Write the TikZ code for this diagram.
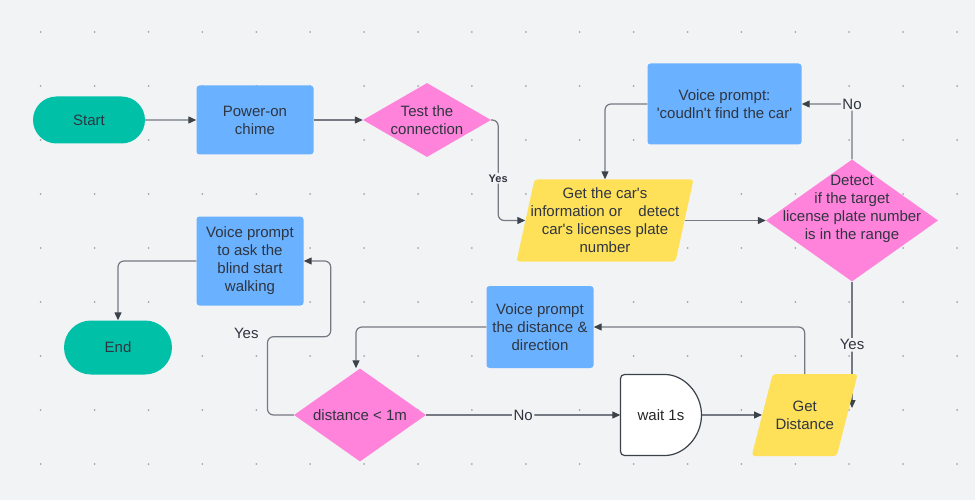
\documentclass[tikz,border=0pt]{standalone}
\usepackage{fontspec}
\setmainfont{Liberation Sans}
\usetikzlibrary{arrows.meta,shapes.geometric,shapes.misc,calc}

\definecolor{bgcol}{HTML}{F2F3F5}
\definecolor{dotcol}{HTML}{A3A6AC}
\definecolor{termcol}{HTML}{00C1A8}
\definecolor{boxblue}{HTML}{6AB1FF}
\definecolor{diapink}{HTML}{FF82DB}
\definecolor{datayellow}{HTML}{FFE159}
\definecolor{linecol}{HTML}{757A82}
\definecolor{tipcol}{HTML}{3C424A}
\definecolor{txtcol}{HTML}{2F3540}
\newcommand{\q}{\textquotesingle}

\begin{document}
\begin{tikzpicture}[
  x=1pt, y=-1pt,
  font=\fontsize{15}{18}\selectfont, text=txtcol,
  terminal/.style={rounded rectangle, fill=termcol, inner sep=0pt},
  process/.style={rectangle, rounded corners=3pt, fill=boxblue, align=center, inner sep=0pt},
  decision/.style={diamond, fill=diapink, inner sep=0pt},
  data/.style={rectangle, inner sep=0pt, align=center,
    path picture={\fill[datayellow, rounded corners=3pt]
      (path picture bounding box.south west) -- ([xshift=#1]path picture bounding box.north west)
      -- (path picture bounding box.north east) -- ([xshift=-#1]path picture bounding box.south east) -- cycle;}},
  line/.style={draw=linecol, line width=1.2pt, rounded corners=6pt},
  arrow/.style={line, -{Triangle[length=8pt, width=7pt, color=tipcol]}},
  tag/.style={fill=bgcol, inner sep=1.5pt}
]

% background and dot grid
\fill[bgcol] (0,0) rectangle (975,500);
\foreach \i in {0,...,17} {
  \foreach \j in {0,...,8} {
    \fill[dotcol] (40.7+53.9*\i, 32+54*\j) circle (1pt);
  }
}

% top row
\node[terminal, minimum width=112pt, minimum height=47pt] (start) at (89,120) {Start};
\node[process, minimum width=117pt, minimum height=69pt] (chime) at (255,120) {Power-on\\chime};
\node[decision, minimum width=128pt, minimum height=74pt,
  label={[align=center]center:Test the\\connection}] (test) at (427,120) {};
\node[process, minimum width=154pt, minimum height=81pt] (nocar) at (724.5,104)
  {Voice prompt:\\\q coudln\q t find the car\q};
\node[data=18pt, minimum width=177pt, minimum height=82pt] (getinfo) at (605,220.5)
  {Get the car\q s\\information or\hspace{12pt} detect\\car\q s licenses plate\\number};
\node[decision, minimum width=172pt, minimum height=122pt,
  label={[align=center, yshift=12pt]center:Detect\\if the target\\license plate number\\is in the range}]
  (detect) at (852,220.5) {};

% bottom part
\node[process, minimum width=107pt, minimum height=89pt] (walk) at (250,261)
  {Voice prompt\\to ask the\\blind start\\walking};
\node[terminal, minimum width=108pt, minimum height=54pt] (end) at (118,347.5) {End};
\node[process, minimum width=107pt, minimum height=82pt] (tell) at (540,327)
  {Voice prompt\\the distance \&\\direction};
\node[decision, minimum width=132pt, minimum height=93pt,
  label={center:distance < 1m}] (dist) at (360,415) {};

% wait 1s (delay)
\coordinate (waitc) at (661,415);
\draw[draw=tipcol, line width=1.2pt, fill=white, rounded corners=4pt]
  ($(waitc)+(-40.5,-40.5)$) -- ($(waitc)+(0,-40.5)$)
  arc[start angle=-90, end angle=90, radius=40.5]
  -- ($(waitc)+(-40.5,40.5)$) -- cycle;
\node[minimum width=81pt, minimum height=81pt, inner sep=0pt, text=black!85] (wait) at (waitc) {wait 1s};

% Yes from detect, runs under Get Distance
\coordinate (yesend) at (852,408);
\draw[arrow] (detect.south) -- node[tag] {Yes} (yesend);

\node[data=21pt, minimum width=106pt, minimum height=82pt] (getdist) at (804.7,415) {Get\\Distance};

% connectors
\draw[arrow] (start) -- (chime);
\draw[arrow] (chime) -- (test);
\draw[arrow] (test.east) -- ++(7,0) |- node[pos=0.29, tag, font=\bfseries\fontsize{11}{13}\selectfont] {Yes} ([xshift=9pt]getinfo.west);
\draw[arrow] ([xshift=-9pt]getinfo.east) -- (detect.west);
\draw[arrow] (detect.north) |- node[tag] {No} (nocar.east);
\draw[arrow] (nocar.west) -| (getinfo.north);
\draw[arrow] (wait.east) -- ([xshift=10.5pt]getdist.west);
\draw[arrow] (getdist.north) |- (tell.east);
\draw[arrow] (tell.west) -| ([xshift=-4pt]dist.north);
\draw[arrow] (dist.east) -- node[tag] {No} (wait.west);
\draw[arrow] (dist.west) -- ++(-26.3,0) -- ++(0,-78.3)
  node[anchor=east, xshift=-5pt, yshift=3pt] {Yes}
  -| ([xshift=27pt]walk.east) -- (walk.east);
\draw[arrow] (walk.west) -| (end.north);

\end{tikzpicture}
\end{document}
